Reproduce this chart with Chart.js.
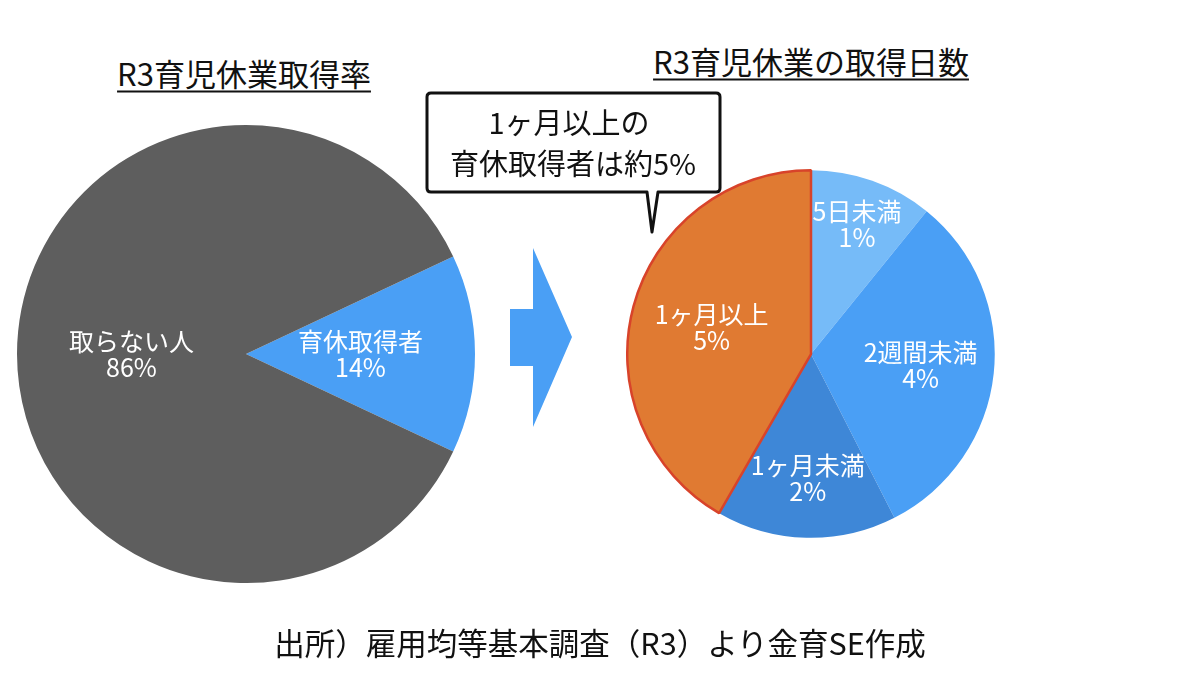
<!DOCTYPE html>
<html lang="ja">
<head>
<meta charset="utf-8">
<script src="https://cdn.jsdelivr.net/npm/chart.js@4.4.1/dist/chart.umd.min.js"></script>
<style>
  body { margin: 0; background: #fff; }
  #stage { position: relative; width: 1200px; height: 675px; overflow: hidden; background: #fff;
           font-family: "Noto Sans CJK JP", "Noto Sans", sans-serif; color: #111; }
  .abs { position: absolute; }
  .center { transform: translate(-50%, -50%); white-space: nowrap; line-height: 1; }
  .title { font-size: 31px; font-weight: 400; text-decoration: underline; text-decoration-thickness: 2px; text-underline-offset: 5px; }
  .note { font-size: 29px; }
  .source { font-size: 30.5px; }
</style>
</head>
<body>
<div id="stage">
  <div class="abs center title" style="left:244px; top:72px;">R3育児休業取得率</div>
  <div class="abs center title" style="left:811px; top:60px;">R3育児休業の取得日数</div>

  <canvas id="rateChart" class="abs" width="458" height="458" style="left:17px; top:125px;"></canvas>
  <canvas id="daysChart" class="abs" width="370" height="370" style="left:626px; top:169px;"></canvas>

  <!-- arrow between the two pies, and the callout box -->
  <svg class="abs" width="1200" height="675" style="left:0; top:0;">
    <polygon points="510,309 533,309 533,248 572,337 533,427 533,366 510,366" fill="#4a9ff5"/>
    <path d="M431 93 H716 Q720 93 720 97 V188 Q720 192 716 192 H658 L652 232 L647 192 H431 Q427 192 427 188 V97 Q427 93 431 93 Z"
          fill="#fff" stroke="#111" stroke-width="3" stroke-linejoin="round"/>
  </svg>

  <div class="abs center note" style="left:569px; top:121px;">1ヶ月以上の</div>
  <div class="abs center note" style="left:573px; top:162px;">育休取得者は約5%</div>

  <div class="abs center source" style="left:600px; top:642px;">出所）雇用均等基本調査（R3）より金育SE作成</div>
</div>

<script>
// 育児休業取得率
const rateLabels = ['育休取得者', '取らない人'];
const rateValues = [14, 86];
const rateColors = ['#4a9ff5', '#5e5e5e'];

// 取得日数の内訳
const dayLabels = ['5日未満', '2週間未満', '1ヶ月未満', '1ヶ月以上'];
const dayValues = [1.3, 3.8, 1.9, 5.0];
const dayColors = ['#76bbf8', '#4a9ff5', '#3e87d7', '#e07a32'];

// white two-line label inside each slice
const sliceText = {
    id: 'sliceText',
    afterDatasetsDraw(chart, args, opts) {
        const ctx = chart.ctx;
        const meta = chart.getDatasetMeta(0);
        const values = chart.data.datasets[0].data;
        ctx.save();
        ctx.fillStyle = '#fff';
        ctx.font = '25px "Noto Sans CJK JP", sans-serif';
        ctx.textAlign = 'center';
        ctx.textBaseline = 'middle';
        meta.data.forEach((arc, i) => {
            const p = arc.getProps(['x', 'y', 'startAngle', 'endAngle', 'outerRadius'], true);
            const mid = (p.startAngle + p.endAngle) / 2;
            const r = p.outerRadius * opts.radius[i];
            const x = p.x + Math.cos(mid) * r;
            const y = p.y + Math.sin(mid) * r;
            ctx.fillText(chart.data.labels[i], x, y - 13);
            ctx.fillText(Math.round(values[i]) + '%', x, y + 13);
        });
        ctx.restore();
    }
};

const baseOptions = {
    responsive: false,
    animation: false,
    events: [],
    layout: { padding: 0 },
    plugins: { legend: { display: false }, tooltip: { enabled: false } }
};

new Chart(document.getElementById('rateChart'), {
    type: 'pie',
    data: {
        labels: rateLabels,
        datasets: [{
            data: rateValues,
            backgroundColor: rateColors,
            borderWidth: 0,
            hoverOffset: 0,
            offset: 0
        }]
    },
    options: {
        ...baseOptions,
        rotation: 90 - 14 * 3.6 / 2,
        plugins: { ...baseOptions.plugins, sliceText: { radius: [0.5, 0.5] } }
    },
    plugins: [sliceText]
});

new Chart(document.getElementById('daysChart'), {
    type: 'pie',
    data: {
        labels: dayLabels,
        datasets: [{
            data: dayValues,
            backgroundColor: dayColors,
            borderColor: ['#76bbf8', '#4a9ff5', '#3e87d7', '#d8432a'],
            borderWidth: [0, 0, 0, 2.5],
            hoverOffset: 0,
            offset: 0
        }]
    },
    options: {
        ...baseOptions,
        rotation: 0,
        plugins: { ...baseOptions.plugins, sliceText: { radius: [0.75, 0.6, 0.68, 0.56] } }
    },
    plugins: [sliceText]
});
</script>
</body>
</html>
